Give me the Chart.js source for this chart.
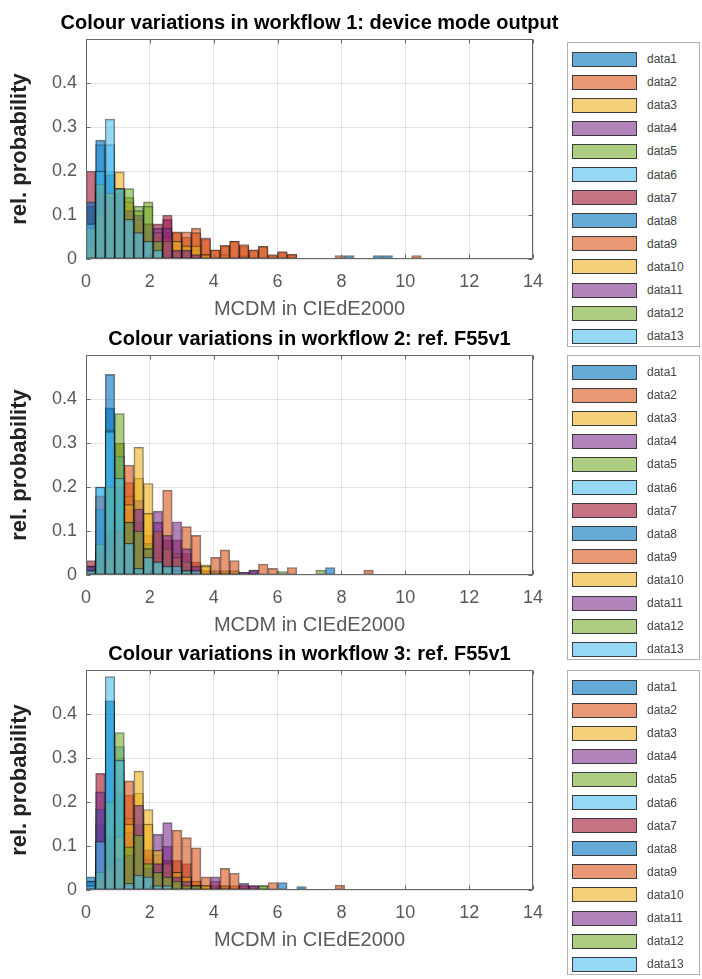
<!DOCTYPE html>
<html lang="en">
<head>
<meta charset="UTF-8">
<title>Colour variations in workflows</title>
<script src="https://cdn.jsdelivr.net/npm/chart.js"></script>
<style>
    body { margin: 0; background: #fff; font-family: 'Liberation Sans', Arial, sans-serif; }
    #page { position: relative; width: 702px; height: 979px; overflow: hidden; background: #fff; }
    .plot { position: absolute; left: 0; width: 619px; height: 340px; }
    .legend { position: absolute; left: 567px; width: 133px; height: 305px; border: 1px solid #b0b0b0;
              background: #fff; box-sizing: border-box; }
    .legend .row { position: absolute; left: 4px; height: 15px; display: flex; align-items: center; }
    .legend .swatch { width: 65px; height: 15px; border: 1px solid #3c3c3c; box-sizing: border-box; }
    .legend .label { margin-left: 10px; font-size: 12px; color: #444; }
</style>
</head>
<body>
<div id="page">
    <div class="plot" style="top:0px"><canvas id="wf1"></canvas></div>
    <div class="plot" style="top:316px"><canvas id="wf2"></canvas></div>
    <div class="plot" style="top:631px"><canvas id="wf3"></canvas></div>
    <div class="legend" id="leg1" style="top:42px"></div>
    <div class="legend" id="leg2" style="top:355px"></div>
    <div class="legend" id="leg3" style="top:670px"></div>
</div>

<script>
// --- data ---
const BIN_WIDTH = 0.3;   // histogram bins of 0.3 starting at 0
const X_TICKS = [0, 2, 4, 6, 8, 10, 12, 14];
const Y_TICKS = [0, 0.1, 0.2, 0.3, 0.4];
const TITLES = [
    'Colour variations in workflow 1: device mode output',
    'Colour variations in workflow 2: ref. F55v1',
    'Colour variations in workflow 3: ref. F55v1'
];
const X_LABEL = 'MCDM in CIEdE2000';
const Y_LABEL = 'rel. probability';
const SERIES_NAMES = ['data1', 'data2', 'data3', 'data4', 'data5', 'data6', 'data7',
                      'data8', 'data9', 'data10', 'data11', 'data12', 'data13'];
// MATLAB default colour order, repeats after 7
const SERIES_COLORS = ['0,114,189', '217,83,25', '237,177,32', '126,47,142', '119,172,48', '77,190,238', '162,20,47',
                       '0,114,189', '217,83,25', '237,177,32', '126,47,142', '119,172,48', '77,190,238'];

// relative probability per bin (bin i covers i*0.3 .. (i+1)*0.3)
const WF1_SERIES = [
    [0.12, 0.20, 0.20, 0.16, 0.09, 0.05, 0.06, 0.03, 0.02, 0.01, 0, 0, 0, 0, 0, 0, 0.008, 0, 0, 0, 0, 0, 0, 0, 0, 0, 0, 0.008],
    [0.02, 0.05, 0.08, 0.10, 0.12, 0.07, 0.06, 0.05, 0.06, 0.06, 0.05, 0.07, 0.045, 0.02, 0.03, 0.04, 0.03, 0.02, 0.028, 0.008, 0.016, 0.01],
    [0.05, 0.12, 0.15, 0.16, 0.13, 0.09, 0.08, 0.05, 0.04, 0.03, 0.03, 0.02, 0.01, 0, 0.01],
    [0.04, 0.14, 0.14, 0.15, 0.10, 0.10, 0.07, 0.06, 0.09, 0.02, 0.02, 0.01, 0.01],
    [0.06, 0.16, 0.15, 0.15, 0.14, 0.12, 0.13, 0.05],
    [0.08, 0.26, 0.26, 0.16, 0.08, 0.05, 0.04, 0.03],
    [0.20, 0.16, 0.12, 0.10, 0.07, 0.06, 0.05, 0.08, 0.10, 0.02, 0.02, 0.01, 0.01],
    [0.13, 0.27, 0.19, 0.16, 0.08, 0.05, 0.06, 0.03, 0.01, 0, 0, 0, 0, 0, 0, 0, 0.005, 0, 0, 0, 0, 0, 0, 0, 0, 0, 0, 0, 0, 0, 0.008, 0.008],
    [0.01, 0.03, 0.05, 0.08, 0.11, 0.08, 0.05, 0.05, 0.05, 0.062, 0.062, 0.06, 0.048, 0.021, 0.031, 0.041, 0.033, 0.021, 0.029, 0.01, 0.017, 0.011, 0, 0, 0, 0, 0.008, 0, 0, 0, 0, 0, 0, 0, 0.008],
    [0.03, 0.10, 0.15, 0.198, 0.13, 0.09, 0.08, 0.06, 0.04, 0.04, 0.03, 0.03, 0.01],
    [0.05, 0.15, 0.14, 0.15, 0.11, 0.10, 0.08, 0.07, 0.07, 0.02, 0.02, 0.01],
    [0.07, 0.17, 0.15, 0.16, 0.16, 0.11, 0.12, 0.04],
    [0.08, 0.20, 0.318, 0.16, 0.09, 0.06, 0.04, 0.02]
];
const WF2_SERIES = [
    [0.01, 0.10, 0.38, 0.27, 0.12, 0.015, 0.02, 0.01, 0.01, 0, 0, 0, 0, 0, 0, 0, 0, 0, 0, 0, 0, 0, 0, 0, 0, 0.017],
    [0.01, 0.04, 0.10, 0.30, 0.21, 0.10, 0.09, 0.05, 0.03, 0.02, 0.01, 0.01, 0.01, 0.005, 0.005],
    [0, 0.02, 0.06, 0.14, 0.18, 0.22, 0.208, 0.08, 0.04, 0.02, 0.01, 0.005, 0.023],
    [0.02, 0.06, 0.10, 0.12, 0.15, 0.17, 0.07, 0.145, 0.08, 0.04, 0.02, 0.01, 0, 0, 0, 0, 0.006, 0.011],
    [0.01, 0.05, 0.15, 0.30, 0.117, 0.105, 0.072, 0.05, 0.03, 0.02, 0.01, 0.01, 0, 0.01, 0.01, 0.01, 0, 0, 0, 0, 0.008, 0, 0, 0, 0.011],
    [0.01, 0.20, 0.33, 0.27, 0.07, 0.015, 0.02, 0.01, 0.01, 0.01],
    [0.033, 0.18, 0.10, 0.08, 0.10, 0.12, 0.05, 0.10, 0.08, 0.08, 0.05, 0.03],
    [0.02, 0.15, 0.456, 0.20, 0.08, 0.015, 0.02, 0.01, 0.01, 0.01, 0.01],
    [0, 0.01, 0.02, 0.04, 0.25, 0.05, 0.05, 0.04, 0.193, 0.05, 0.11, 0.09, 0.01, 0.04, 0.057, 0.033, 0, 0, 0.025, 0.015, 0, 0.017, 0, 0, 0, 0, 0, 0, 0, 0.011],
    [0, 0.01, 0.04, 0.10, 0.16, 0.29, 0.14, 0.10, 0.06, 0.04, 0.03, 0.01, 0.02],
    [0.02, 0.05, 0.08, 0.10, 0.12, 0.15, 0.06, 0.12, 0.09, 0.121, 0.06, 0.02, 0, 0, 0, 0, 0.006, 0.011],
    [0.01, 0.07, 0.20, 0.367, 0.12, 0.10, 0.06, 0.03, 0.02, 0.01, 0.01],
    [0.01, 0.20, 0.326, 0.22, 0.072, 0.015, 0.04, 0.03, 0.02, 0.02, 0.01, 0.01]
];
const WF3_SERIES = [
    [0.03, 0.15, 0.43, 0.25, 0.03, 0.03, 0.01, 0.01, 0, 0, 0, 0, 0, 0, 0, 0, 0, 0, 0, 0, 0.017, 0, 0.008],
    [0, 0.03, 0.08, 0.27, 0.216, 0.12, 0.08, 0.05, 0.04, 0.03, 0.02, 0.02, 0.01, 0, 0.01, 0.01, 0.01],
    [0, 0.02, 0.05, 0.12, 0.163, 0.22, 0.183, 0.08, 0.06, 0.04, 0.03, 0.02, 0.01, 0.01],
    [0, 0.08, 0.12, 0.13, 0.132, 0.15, 0.07, 0.127, 0.10, 0.04, 0.03, 0.01, 0.005, 0.006],
    [0, 0.06, 0.16, 0.30, 0.098, 0.125, 0.06, 0.05, 0.04, 0.03, 0.02, 0.01, 0.01, 0.01, 0.01, 0, 0, 0, 0.01],
    [0.02, 0.11, 0.40, 0.326, 0.015, 0.034, 0.02, 0.01],
    [0, 0.265, 0.12, 0.08, 0.09, 0.10, 0.092, 0.06, 0.068, 0.068, 0.06, 0.01, 0, 0.01, 0, 0, 0, 0.01],
    [0.02, 0.184, 0.43, 0.22, 0.02, 0.03, 0.02, 0.01, 0.01],
    [0, 0.02, 0.04, 0.05, 0.248, 0.05, 0.04, 0.03, 0.04, 0.136, 0.119, 0.096, 0.03, 0.02, 0.049, 0.038, 0.01, 0, 0, 0.017, 0, 0, 0, 0, 0, 0, 0.011],
    [0, 0.02, 0.05, 0.12, 0.15, 0.27, 0.15, 0.09, 0.06, 0.04, 0.03, 0.01, 0.01],
    [0, 0.223, 0.06, 0.07, 0.08, 0.193, 0.05, 0.06, 0.153, 0.03, 0.02, 0.01, 0, 0.03, 0, 0, 0.015, 0.01],
    [0, 0.04, 0.20, 0.358, 0.098, 0.125, 0.06, 0.04, 0.03, 0.02, 0.01, 0.01, 0, 0, 0, 0, 0, 0, 0.01],
    [0.01, 0.11, 0.485, 0.295, 0.015, 0.034, 0.03, 0.01, 0.01]
];

Chart.defaults.font.family = "'Liberation Sans', Arial, sans-serif";
Chart.defaults.animation = false;

// axes box with inward tick marks, like a MATLAB axes
const frameBox = {
    id: 'frameBox',
    afterDatasetsDraw(chart) {
        const { ctx, chartArea: a, scales: { x, y } } = chart;
        const L = Math.round(a.left) + 0.5, R = Math.round(a.right) - 0.5;
        const T = Math.round(a.top) + 0.5, B = Math.round(a.bottom) - 0.5;
        ctx.save();
        ctx.strokeStyle = '#666';
        ctx.lineWidth = 1;
        ctx.beginPath();
        X_TICKS.forEach(v => {
            const px = Math.round(x.getPixelForValue(v)) + 0.5;
            ctx.moveTo(px, B); ctx.lineTo(px, B - 4);
            ctx.moveTo(px, T); ctx.lineTo(px, T + 4);
        });
        Y_TICKS.forEach(v => {
            const py = Math.round(y.getPixelForValue(v)) + 0.5;
            ctx.moveTo(L, py); ctx.lineTo(L + 4, py);
            ctx.moveTo(R, py); ctx.lineTo(R - 4, py);
        });
        ctx.moveTo(L, T); ctx.lineTo(R, T); ctx.lineTo(R, B); ctx.lineTo(L, B); ctx.closePath();
        ctx.stroke();
        ctx.restore();
    }
};

function makeChart(canvasId, title, series) {
    const datasets = series.map((vals, i) => ({
        label: SERIES_NAMES[i],
        data: vals.map((v, b) => ({ x: (b + 0.5) * BIN_WIDTH, y: v })).filter(p => p.y > 0),
        backgroundColor: 'rgba(' + SERIES_COLORS[i] + ',0.6)',
        borderColor: 'rgba(20,20,20,0.55)',
        borderWidth: 1,
        borderSkipped: false,
        grouped: false,
        barPercentage: 1,
        categoryPercentage: 1,
        order: SERIES_NAMES.length - i   // data13 drawn last, on top
    }));

    return new Chart(document.getElementById(canvasId), {
        type: 'bar',
        data: { datasets },
        options: {
            responsive: true,
            maintainAspectRatio: false,
            layout: { padding: 0 },
            plugins: {
                legend: { display: false },
                tooltip: { enabled: false },
                title: {
                    display: true,
                    text: title,
                    color: '#000',
                    font: { size: 20, weight: 'bold' },
                    padding: { top: 11, bottom: 4 }
                }
            },
            scales: {
                x: {
                    type: 'linear',
                    min: 0,
                    max: 14,
                    offset: false,
                    afterBuildTicks: s => { s.ticks = X_TICKS.map(v => ({ value: v })); },
                    afterFit: s => { s.height = 81; },
                    grid: { color: 'rgba(0,0,0,0.11)', drawTicks: false, offset: false },
                    border: { display: false },
                    ticks: { color: '#595959', font: { size: 18 }, padding: 12, maxRotation: 0 },
                    title: {
                        display: true, text: X_LABEL, color: '#5a5a5a',
                        font: { size: 20 }, padding: { top: 0, bottom: 19 }
                    }
                },
                y: {
                    min: 0,
                    max: 0.5,
                    afterBuildTicks: s => { s.ticks = Y_TICKS.map(v => ({ value: v })); },
                    afterFit: s => { s.width = 86; },
                    grid: { color: 'rgba(0,0,0,0.11)', drawTicks: false },
                    border: { display: false },
                    ticks: { color: '#595959', font: { size: 18 }, padding: 9 },
                    title: {
                        display: true, text: Y_LABEL, color: '#222',
                        font: { size: 22, weight: 'bold' }, padding: { top: 7, bottom: 0 }
                    }
                },
                yRight: {
                    position: 'right',
                    afterFit: s => { s.width = 86; },
                    grid: { display: false },
                    border: { display: false },
                    ticks: { display: false }
                }
            }
        },
        plugins: [frameBox]
    });
}

function makeLegend(elId) {
    const box = document.getElementById(elId);
    SERIES_NAMES.forEach((name, i) => {
        const row = document.createElement('div');
        row.className = 'row';
        row.style.top = (8.5 + 23.1 * i) + 'px';
        const sw = document.createElement('div');
        sw.className = 'swatch';
        sw.style.background = 'rgba(' + SERIES_COLORS[i] + ',0.6)';
        const lab = document.createElement('span');
        lab.className = 'label';
        lab.textContent = name;
        row.appendChild(sw);
        row.appendChild(lab);
        box.appendChild(row);
    });
}

makeChart('wf1', TITLES[0], WF1_SERIES);
makeChart('wf2', TITLES[1], WF2_SERIES);
makeChart('wf3', TITLES[2], WF3_SERIES);
makeLegend('leg1');
makeLegend('leg2');
makeLegend('leg3');
</script>
</body>
</html>
